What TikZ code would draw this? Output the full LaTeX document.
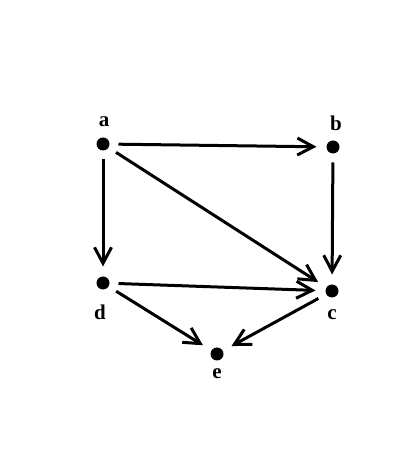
\documentclass[tikz,border=0pt]{standalone}
\usepackage{fontspec}
\setmainfont{Liberation Serif}
\usetikzlibrary{arrows.meta}

\begin{document}
\begin{tikzpicture}[
    x=1pt, y=1pt,
    vertex/.style={circle, fill=black, inner sep=0pt, minimum size=13pt, outer sep=9pt},
    vlabel/.style={font=\fontsize{21}{21}\selectfont\bfseries, inner sep=0pt},
    arr/.style={-{Straight Barb[length=16pt, width=17pt, line width=3pt]}, line width=3pt, shorten >=1pt}
  ]
  \useasboundingbox[fill=white] (0,0) rectangle (419,455);

  % --- Vertices ---
  \node[vertex] (a) at (103,311) {};
  \node[vertex] (b) at (333,308) {};
  \node[vertex] (d) at (103,172) {};
  \node[vertex] (c) at (332,164) {};
  \node[vertex] (e) at (217,101) {};

  % --- Labels ---
  \node[vlabel] (la) at (104,333) {a};
  \node[vlabel] (lb) at (336,332) {b};
  \node[vlabel] (ld) at (100,143) {d};
  \node[vlabel] (lc) at (332,140) {c};
  \node[vlabel] (le) at (217,81) {e};

  % --- Arrows ---
  \draw[arr] (a) -- (b);
  \draw[arr] (a) -- (d);
  \draw[arr] (a) -- (c);
  \draw[arr] (b) -- (c);
  \draw[arr] (d) -- (c);
  \draw[arr] (d) -- (e);
  \draw[arr] (c) -- (e);

\end{tikzpicture}
\end{document}
